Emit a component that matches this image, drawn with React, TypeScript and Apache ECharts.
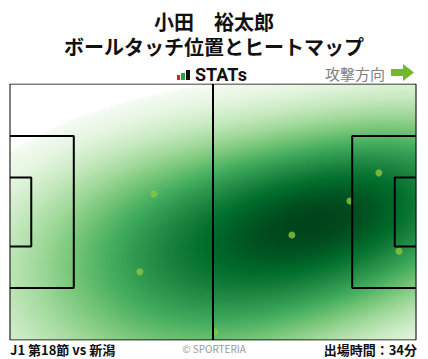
import React, { useEffect, useRef } from "react";
import * as echarts from "echarts";

const PITCH_LENGTH = 105;
const PITCH_WIDTH = 68;
// ball touch positions (metres; x toward attacking goal, y from top touchline)
const TOUCH_X = [37.2, 33.6, 72.9, 87.9, 95.4, 100.6, 53.0];
const TOUCH_Y = [29.2, 49.9, 40.1, 31.1, 23.6, 44.4, 65.9];
const HEAT_COLORS = ["#f7fcf5", "#e5f5e0", "#c7e9c0", "#a1d99b", "#74c476", "#41ab5d", "#238b45", "#006d2c", "#00441b"];
const TITLE_LINES = ["小田　裕太郎", "ボールタッチ位置とヒートマップ"];
const BRAND = "STATs";
const DIRECTION_LABEL = "攻撃方向";
const MATCH_LABEL = "J1 第18節 vs 新潟";
const COPYRIGHT = "© SPORTERIA";
const MINUTES_LABEL = "出場時間：34分";

const NX = 203;
const NY = 128;
const THRESH = 0.06;
const BW_SCALE = 1.5;
const GAMMA = 0.75;
const FONT = "'Noto Sans CJK JP', 'Noto Sans', sans-serif";

function buildHeat() {
  const n = TOUCH_X.length;
  const mx = TOUCH_X.reduce((a, b) => a + b, 0) / n;
  const my = TOUCH_Y.reduce((a, b) => a + b, 0) / n;
  let sxx = 0, syy = 0, sxy = 0;
  for (let k = 0; k < n; k++) {
    const dx = TOUCH_X[k] - mx, dy = TOUCH_Y[k] - my;
    sxx += dx * dx; syy += dy * dy; sxy += dx * dy;
  }
  sxx /= n - 1; syy /= n - 1; sxy /= n - 1;
  const f2 = Math.pow(n, -1 / 3) * BW_SCALE * BW_SCALE;
  const a = sxx * f2, b = sxy * f2, d = syy * f2;
  const det = a * d - b * b;
  const ia = d / det, ib = -b / det, id = a / det;
  const vals: number[][] = [];
  let max = 0;
  for (let j = 0; j < NY; j++) {
    for (let i = 0; i < NX; i++) {
      const x = ((i + 0.5) / NX) * PITCH_LENGTH;
      const y = ((j + 0.5) / NY) * PITCH_WIDTH;
      let s = 0;
      for (let k = 0; k < n; k++) {
        const dx = x - TOUCH_X[k], dy = y - TOUCH_Y[k];
        s += Math.exp(-0.5 * (ia * dx * dx + 2 * ib * dx * dy + id * dy * dy));
      }
      if (s > max) max = s;
      vals.push([i, j, s]);
    }
  }
  return vals
    .filter((v) => v[2] / max >= THRESH)
    .map((v) => [v[0], v[1], Math.pow((v[2] / max - THRESH) / (1 - THRESH), GAMMA)]);
}

const rectPath = (x0: number, y0: number, x1: number, y1: number) => [
  [x0, y0], [x1, y0], [x1, y1], [x0, y1],
];

export default function App() {
  const ref = useRef<HTMLDivElement>(null);
  useEffect(() => {
    if (!ref.current) return;
    const chart = echarts.init(ref.current, null, { renderer: "svg" });
    const L = PITCH_LENGTH, W = PITCH_WIDTH;
    const paTop = (W - 40.32) / 2, paBot = W - paTop;
    const gaTop = (W - 18.32) / 2, gaBot = W - gaTop;
    const lineSeries = (data: number[][], width: number) => ({
      type: "line",
      xAxisIndex: 1,
      yAxisIndex: 1,
      data,
      symbol: "none",
      silent: true,
      z: 5,
      lineStyle: { color: "#000", width },
    });
    const grid = { left: 10, top: 84, width: 406, height: 256 };
    chart.setOption({
      animation: false,
      grid: [grid, grid],
      xAxis: [
        { gridIndex: 0, type: "category", data: Array.from({ length: NX }, (_, i) => i), show: false },
        { gridIndex: 1, type: "value", min: 0, max: L, show: false },
      ],
      yAxis: [
        { gridIndex: 0, type: "category", data: Array.from({ length: NY }, (_, i) => i), inverse: true, show: false },
        { gridIndex: 1, type: "value", min: 0, max: W, inverse: true, show: false },
      ],
      visualMap: {
        type: "continuous",
        show: false,
        min: 0,
        max: 1,
        seriesIndex: 0,
        dimension: 2,
        inRange: { color: HEAT_COLORS },
      },
      series: [
        {
          type: "heatmap",
          xAxisIndex: 0,
          yAxisIndex: 0,
          data: buildHeat(),
          progressive: 0,
          silent: true,
          itemStyle: { borderWidth: 0 },
          emphasis: { disabled: true },
        },
        {
          type: "scatter",
          xAxisIndex: 1,
          yAxisIndex: 1,
          data: TOUCH_X.map((x, i) => [x, TOUCH_Y[i]]),
          symbolSize: 7,
          silent: true,
          z: 3,
          itemStyle: { color: "#8cc63f" },
        },
        lineSeries([...rectPath(0, 0, L, W), [0, 0]], 1),
        lineSeries([[L / 2, 0], [L / 2, W]], 2),
        lineSeries(rectPath(0, paTop, 16.5, paBot), 2),
        lineSeries(rectPath(0, gaTop, 5.5, gaBot), 2),
        lineSeries(rectPath(L, paTop, L - 16.5, paBot), 2),
        lineSeries(rectPath(L, gaTop, L - 5.5, gaBot), 2),
      ],
      graphic: [
        { type: "text", x: 214, y: 33.5, style: { text: TITLE_LINES.join("\n"), font: `bold 20px ${FONT}`, lineHeight: 25, fill: "#111", align: "center", verticalAlign: "middle" } },
        { type: "rect", shape: { x: 177, y: 75, width: 3, height: 5 }, style: { fill: "#e02020" } },
        { type: "rect", shape: { x: 181, y: 73, width: 4, height: 7 }, style: { fill: "#2fa040" } },
        { type: "rect", shape: { x: 186, y: 70, width: 4, height: 10 }, style: { fill: "#111" } },
        { type: "text", x: 195, y: 74, style: { text: BRAND, font: `bold 18px Roboto, sans-serif`, lineHeight: 18, fill: "#111", align: "left", verticalAlign: "middle" } },
        { type: "text", x: 385, y: 73, style: { text: DIRECTION_LABEL, font: `15px ${FONT}`, lineHeight: 16, fill: "#808080", align: "right", verticalAlign: "middle" } },
        {
          type: "polygon",
          shape: { points: [[391, 69], [403, 69], [403, 64], [414, 72.5], [403, 81], [403, 76], [391, 76]] },
          style: { fill: "#72b82a" },
        },
        { type: "text", x: 10, y: 349, style: { text: MATCH_LABEL, font: `bold 13px ${FONT}`, fill: "#111", align: "left", verticalAlign: "middle" } },
        { type: "text", x: 214, y: 348, style: { text: COPYRIGHT, font: `10px ${FONT}`, fill: "#999", align: "center", verticalAlign: "middle" } },
        { type: "text", x: 417, y: 349, style: { text: MINUTES_LABEL, font: `bold 13px ${FONT}`, fill: "#111", align: "right", verticalAlign: "middle" } },
      ],
    });
    return () => chart.dispose();
  }, []);
  return <div ref={ref} style={{ width: 428, height: 359, position: "absolute", left: 0, top: 0 }} />;
}
